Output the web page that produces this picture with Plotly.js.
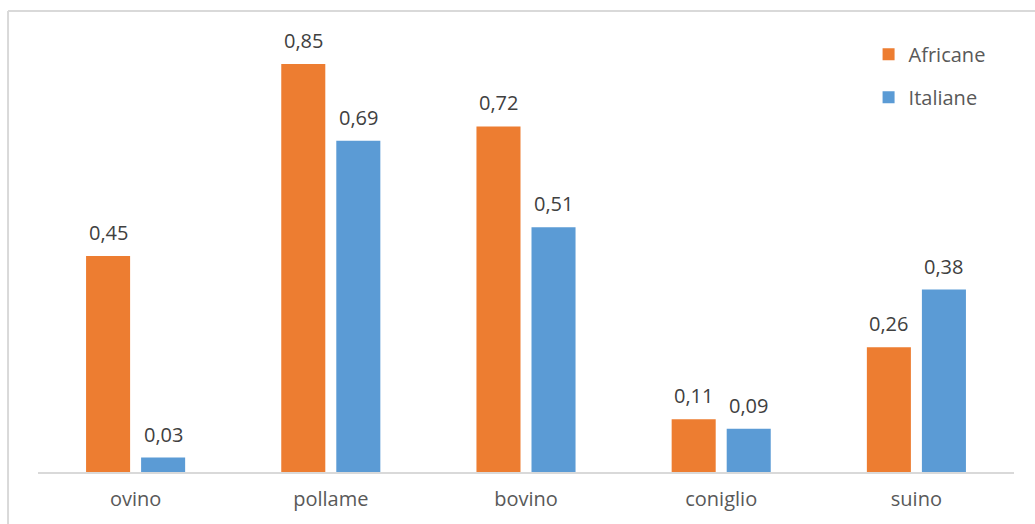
<!DOCTYPE html>
<html>
<head>
<meta charset="utf-8">
<script src="https://cdn.plot.ly/plotly-3.0.1.min.js"></script>
<style>
  html, body { margin: 0; padding: 0; background: #fff; }
  #chart { width: 1035px; height: 524px; }
</style>
</head>
<body>
<div id="chart"></div>
<script>
// Carne consumata per tipo: confronto tra famiglie africane e italiane
const categories = ['ovino', 'pollame', 'bovino', 'coniglio', 'suino'];
const africane = [0.45, 0.85, 0.72, 0.11, 0.26];
const italiane = [0.03, 0.69, 0.51, 0.09, 0.38];
const seriesNames = ['Africane', 'Italiane'];
const seriesColors = ['#ED7D31', '#5B9BD5'];

const textColor = '#404040';
const labelColor = '#595959';
const fontFamily = '"Open Sans", "Noto Sans", sans-serif';

const seriesData = [africane, italiane];

const traces = seriesData.map((vals, i) => ({
  type: 'bar',
  name: seriesNames[i],
  x: categories,
  y: vals,
  marker: { color: seriesColors[i] },
  legendgroup: 'g' + i,
  hoverinfo: 'skip'
}));

// Value labels above each bar, shifted onto its slot within the group
const slotShift = 27.5;
const annotations = [];
seriesData.forEach((vals, i) => {
  vals.forEach((v, j) => {
    annotations.push({
      x: categories[j],
      y: v,
      xref: 'x',
      yref: 'y',
      text: v.toFixed(2).replace('.', ','),
      showarrow: false,
      xanchor: 'center',
      yanchor: 'bottom',
      xshift: i === 0 ? -slotShift : slotShift,
      yshift: 8,
      font: { family: fontFamily, size: 20, color: textColor }
    });
  });
});

// Thin frame along the left and top of the chart
const frameColor = '#d9d9d9';
const shapes = [
  { type: 'line', xref: 'paper', yref: 'paper', x0: -0.0307, x1: -0.0307, y0: -0.2, y1: 1.067,
    line: { color: frameColor, width: 2 } },
  { type: 'line', xref: 'paper', yref: 'paper', x0: -0.0307, x1: 1.03, y0: 1.067, y1: 1.067,
    line: { color: frameColor, width: 2 } }
];

const layout = {
  width: 1035,
  height: 524,
  margin: { l: 38, r: 21, t: 40, b: 52 },
  paper_bgcolor: '#ffffff',
  plot_bgcolor: '#ffffff',
  barmode: 'group',
  bargap: 0.436,
  bargroupgap: 0.2,
  separators: ',.',
  font: { family: fontFamily, color: labelColor },
  xaxis: {
    showline: true,
    linecolor: '#d9d9d9',
    linewidth: 1.5,
    ticks: '',
    ticklabelstandoff: 8,
    showgrid: false,
    tickfont: { family: fontFamily, size: 20, color: labelColor },
    fixedrange: true
  },
  yaxis: {
    range: [0, 0.9],
    showgrid: false,
    zeroline: false,
    showticklabels: false,
    showline: false,
    fixedrange: true
  },
  showlegend: true,
  legend: {
    x: 0.851,
    y: 1.012,
    xanchor: 'left',
    yanchor: 'top',
    traceorder: 'grouped',
    tracegroupgap: 14,
    itemwidth: 30,
    font: { family: fontFamily, size: 20, color: labelColor },
    bgcolor: 'rgba(0,0,0,0)'
  },
  annotations: annotations,
  shapes: shapes
};

Plotly.newPlot('chart', traces, layout, { displayModeBar: false, staticPlot: true });
</script>
</body>
</html>
